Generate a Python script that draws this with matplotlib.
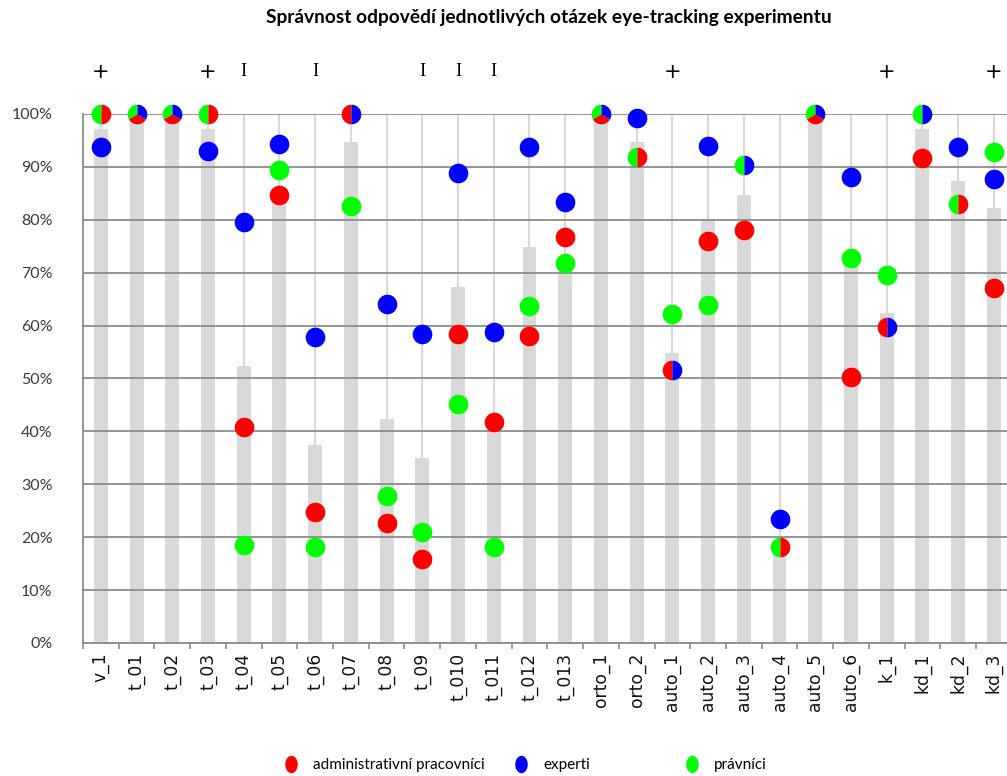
import matplotlib
matplotlib.use('Agg')
import matplotlib.pyplot as plt
import numpy as np
from matplotlib.lines import Line2D

categories = ['v_1', 't_01', 't_02', 't_03', 't_04', 't_05', 't_06', 't_07', 't_08', 't_09',
              't_010', 't_011', 't_012', 't_013', 'orto_1', 'orto_2', 'auto_1', 'auto_2',
              'auto_3', 'auto_4', 'auto_5', 'auto_6', 'k_1', 'kd_1', 'kd_2', 'kd_3']

# administrativní pracovníci (red)
admin = [100, 100, 100, 100, 40.9, 84.6, 24.8, 100, 22.7, 15.9,
         58.5, 41.8, 58.0, 76.7, 100, 91.8, 51.6, 75.9,
         78.1, 18.1, 100, 50.2, 59.8, 91.7, 83.0, 67.2]
# experti (blue)
experts = [93.8, 100, 100, 93.1, 79.5, 94.3, 57.9, 100, 64.1, 58.5,
           88.8, 58.7, 93.8, 83.3, 100, 99.2, 51.6, 94.0,
           90.4, 23.5, 100, 88.0, 59.8, 100, 93.8, 87.8]
# právníci (green)
lawyers = [100, 100, 100, 100, 18.6, 89.5, 18.2, 82.7, 27.8, 20.9,
           45.2, 18.2, 63.7, 71.8, 100, 91.8, 62.2, 63.9,
           90.4, 18.1, 100, 72.8, 69.6, 100, 83.0, 92.8]
# overall (grey bars)
overall = [97.2, 100, 100, 97.2, 52.3, 85.0, 37.5, 94.7, 42.4, 34.9,
           67.3, 41.5, 74.9, 72.0, 100, 94.7, 54.9, 79.8,
           84.7, 19.0, 100, 71.8, 62.3, 97.2, 87.3, 82.2]
# significance symbols above columns
symbols = ['+', '', '', '+', 'I', '', 'I', '', '', 'I',
           'I', 'I', '', '', '', '', '+', '',
           '', '', '', '', '+', '', '', '+']

series_names = ['administrativní pracovníci', 'experti', 'právníci']
RED, BLUE, GREEN = '#FF0000', '#0000FF', '#00FF00'

W, H = 1007, 776
fig = plt.figure(figsize=(W / 100, H / 100), dpi=100)
ax = fig.add_axes([83 / W, 133 / H, 928.7 / W, 529 / H])

x = np.arange(len(categories))
ax.vlines(x, 0, 100, color='#D9D9D9', lw=1.6, zorder=0.8)
ax.bar(x, overall, width=0.39, color='#D9D9D9', zorder=1)

ax.set_xlim(-0.5, len(categories) - 0.5)
ax.set_ylim(0, 100)
ax.set_yticks(np.arange(0, 101, 10))
ax.set_yticklabels([f'{v}%' for v in range(0, 101, 10)], family='Lato', fontsize=11.5, color='#3a3a3a')
ax.tick_params(axis='y', length=0, pad=22)
ax.set_xticks(x)
ax.set_xticklabels(categories, rotation=90, family='DejaVu Sans', fontsize=12.3, color='#111111')
ax.set_xticks(np.arange(-0.5, len(categories), 1), minor=True)
ax.tick_params(axis='x', which='major', length=0, pad=7)
ax.tick_params(axis='x', which='minor', length=4, color='#8c8c8c', width=1.2)

ax.yaxis.grid(True, color='#8c8c8c', lw=1.3)
ax.set_axisbelow(False)
for s in ['top', 'right']:
    ax.spines[s].set_visible(False)
for s in ['left', 'bottom']:
    ax.spines[s].set_color('#8c8c8c')
    ax.spines[s].set_linewidth(1.3)


def wedge(t1, t2, n=61):
    th = np.radians(np.linspace(t1, t2, n))
    pts = np.column_stack([np.cos(th), np.sin(th)])
    return np.vstack([[0, 0], pts, [0, 0]])


MS = 200
order = [(GREEN, lawyers), (RED, admin), (BLUE, experts)]
for i in range(len(categories)):
    vals = [(c, arr[i]) for c, arr in order]
    used = [False] * 3
    for a in range(3):
        if used[a]:
            continue
        group = [vals[a][0]]
        used[a] = True
        for b in range(a + 1, 3):
            if not used[b] and abs(vals[b][1] - vals[a][1]) < 0.05:
                group.append(vals[b][0])
                used[b] = True
        y = vals[a][1]
        if len(group) == 1:
            ax.scatter([i], [y], s=MS, color=group[0], marker='o', lw=0, zorder=4, clip_on=False)
        else:
            step = 360 / len(group)
            for k, c in enumerate(group):
                t1 = 90 + k * step
                ax.scatter([i], [y], s=MS, color=c, marker=wedge(t1, t1 + step),
                           lw=0, zorder=4, clip_on=False)

for i, sym in enumerate(symbols):
    if sym == '+':
        ax.text(i, 108, sym, ha='center', va='center', fontsize=15, family='DejaVu Sans',
                color='black', clip_on=False)
    elif sym == 'I':
        ax.text(i, 108, sym, ha='center', va='center', fontsize=13.5, family='Liberation Serif',
                color='black', clip_on=False)

fig.text(549 / W, 1 - 18 / H, 'Správnost odpovědí jednotlivých otázek eye-tracking experimentu',
         ha='center', va='center', fontsize=13.8, fontweight='bold', family='Lato', color='black')

# legend (three separate entries, positioned like the original)
th = np.linspace(0, 2 * np.pi, 73)
ell = np.column_stack([0.72 * np.cos(th), np.sin(th)])
legend_pos = [291, 521, 692]
fs = 11
em = fs * 100 / 72
for name, col, px in zip(series_names, [RED, BLUE, GREEN], legend_pos):
    h = Line2D([], [], linestyle='none', marker=ell, markersize=12.5, color=col, markeredgewidth=0)
    fig.legend(handles=[h], labels=[name], loc='center left',
               bbox_to_anchor=((px - 0.5 * em) / W, 1 - 765 / H),
               frameon=False, borderpad=0, borderaxespad=0, handlelength=1.0,
               handletextpad=0.94, prop={'family': 'Lato', 'size': fs})

fig.savefig('out.png', dpi=100)
